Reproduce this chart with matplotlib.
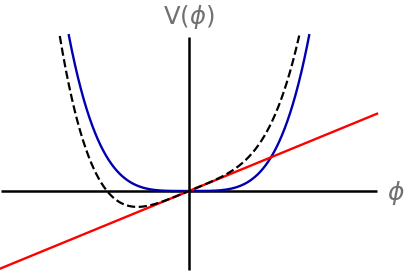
import numpy as np
import matplotlib
matplotlib.use("Agg")
import matplotlib.pyplot as plt

# model parameters (units: 1 = 120 px)
lam = 1.29      # quartic coefficient of the blue potential
tilt = 0.411    # slope of the red linear term
v_clip = 1.30   # curves leave the frame at this height

phi_axis = [-1.567, 1.567]
v_axis = [-0.658, 1.283]
phi_red = [-1.575, 1.567]

phi = np.linspace(-1.6, 1.6, 2001)
v_quartic = lam * phi**4
v_linear = tilt * phi
v_total = v_quartic + v_linear

fig = plt.figure(figsize=(4.05, 2.71), dpi=100)
ax = fig.add_axes([0, 0, 1, 1])
ax.set_xlim(-189 / 120, 216 / 120)
ax.set_ylim(-80 / 120, 191 / 120)
ax.axis("off")

ax.plot(phi_axis, [0, 0], color="black", lw=1.8, solid_capstyle="butt", zorder=1)
ax.plot([0, 0], v_axis, color="black", lw=1.8, solid_capstyle="butt", zorder=1)

m = v_quartic <= v_clip
ax.plot(phi[m], v_quartic[m], color="#0000b0", lw=1.7, zorder=2)
pr = np.array(phi_red)
ax.plot(pr, tilt * pr, color="red", lw=1.7, zorder=3)
m2 = v_total <= v_clip
ax.plot(phi[m2], v_total[m2], color="black", lw=1.6, ls="--", zorder=4)

ax.text(0.0, 174 / 120, r"V($\phi$)", color="#707070", fontsize=17.5,
        ha="center", va="center")
ax.text(207 / 120, -2 / 120, r"$\phi$", color="#707070", fontsize=18,
        ha="center", va="center")

fig.savefig("out.png", dpi=100)
